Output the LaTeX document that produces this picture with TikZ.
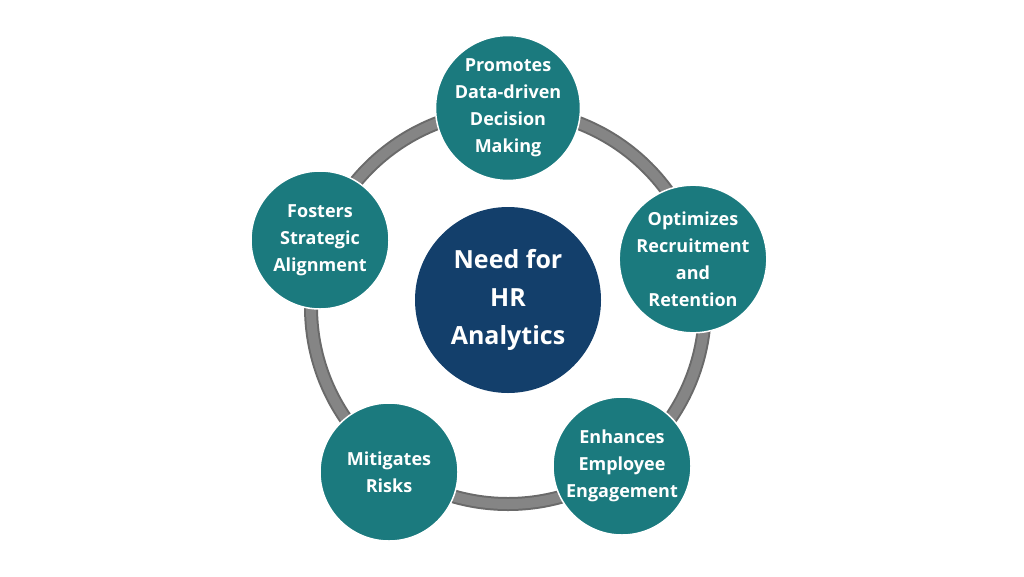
\documentclass[tikz,border=0pt]{standalone}
\usepackage{fontspec}
\setmainfont{Open Sans}
\definecolor{tealc}{HTML}{1B7A7E}
\definecolor{navyc}{HTML}{133F6B}
\definecolor{ringc}{HTML}{858585}
\begin{document}
\begin{tikzpicture}[x=1pt,y=-1pt]
\tikzset{
  item/.style={circle, fill=tealc, draw=white, line width=1.5pt, minimum size=138pt, inner sep=0pt, align=center, text=white, font=\bfseries\fontsize{18}{27}\selectfont},
  hub/.style={circle, fill=navyc, minimum size=186pt, inner sep=0pt, align=center, text=white, font=\bfseries\fontsize{25}{38}\selectfont}
}
\useasboundingbox (0,0) rectangle (1024,576);
\draw[ringc!80!black, line width=14pt] (508,307) circle (197);
\draw[ringc, line width=10pt] (508,307) circle (197);
\node[hub] (need) at (508,300){Need for\\HR\\Analytics};
\node[item] (promote) at (508,108){Promotes\\Data-driven\\Decision\\Making};
\node[item] (optim) at (693,259){Optimizes\\Recruitment\\and\\Retention};
\node[item] (enhance) at (622,466){Enhances\\Employee\\Engagement};
\node[item] (mitig) at (389,472){Mitigates\\Risks};
\node[item] (foster) at (320,240){Fosters\\Strategic\\Alignment};
\end{tikzpicture}
\end{document}
